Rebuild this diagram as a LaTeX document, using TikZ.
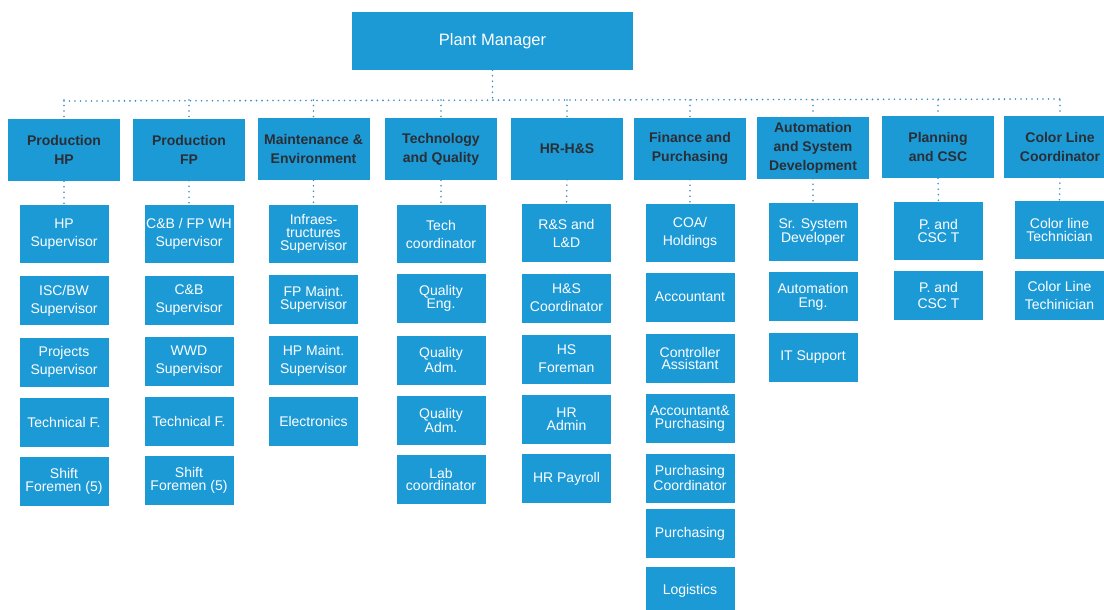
\documentclass[tikz,border=0pt]{standalone}
\usepackage{fontspec}
\setmainfont{Liberation Sans}
\definecolor{boxblue}{HTML}{1C9AD6}
\definecolor{linkblue}{HTML}{3A8CC2}
\definecolor{headtext}{HTML}{2B2E35}
\begin{document}
\begin{tikzpicture}[x=1pt,y=-1pt,
  box/.style={fill=boxblue, draw=none, inner sep=0pt, align=center, anchor=center},
  mgr/.style={box, minimum width=281pt, minimum height=58pt, text=white,
    font=\fontsize{16.5}{19}\selectfont},
  dept/.style={box, minimum width=112pt, minimum height=62pt, text=headtext,
    font=\bfseries\fontsize{14}{19}\selectfont},
  role/.style={box, minimum width=89pt, minimum height=49pt, text=white,
    font=\fontsize{14}{18}\selectfont},
  first/.style={role, minimum height=58pt},
  tight/.style={font=\fontsize{14}{12.8}\selectfont},
  link/.style={draw=linkblue, line width=1.8pt, dash pattern=on 0pt off 5.5pt, line cap=round}
]
\useasboundingbox (0,0) rectangle (1104,610);

% ---- top level ----
\node[mgr] (pm) at (492.5,41) {Plant Manager};

% ---- departments ----
\node[dept] (hp)   at (64,150)   {Production\\HP};
\node[dept] (fp)   at (189,149.5){Production\\FP};
\node[dept] (mnt)  at (313.5,149){Maintenance \&\\Environment};
\node[dept] (tq)   at (441,149)  {Technology\\and Quality};
\node[dept] (hr)   at (567,148.5){HR-H\&S};
\node[dept] (fin)  at (690,148.5){Finance and\\Purchasing};
\node[dept] (aut)  at (813,147.5){Automation\\and System\\Development};
\node[dept] (pln)  at (938,147)  {Planning\\and CSC};
\node[dept] (col)  at (1060,146.5){Color Line\\Coordinator};

% ---- Production HP ----
\node[first] (hp1) at (64,234)   {HP\\Supervisor};
\node[role]  (hp2) at (64,300.5) {ISC/BW\\Supervisor};
\node[role]  (hp3) at (64,362)   {Projects\\Supervisor};
\node[role]  (hp4) at (64,422.5) {Technical F.};
\node[role,tight] (hp5) at (64,481) {Shift\\Foremen (5)};

% ---- Production FP ----
\node[first] (fp1) at (189,234)   {C\&B / FP WH\\Supervisor};
\node[role]  (fp2) at (189,300)   {C\&B\\Supervisor};
\node[role]  (fp3) at (189,361)   {WWD\\Supervisor};
\node[role]  (fp4) at (189,421.5) {Technical F.};
\node[role,tight] (fp5) at (189,480) {Shift\\Foremen (5)};

% ---- Maintenance & Environment ----
\node[first,tight] (mnt1) at (313.5,234)   {Infraes-\\tructures\\Supervisor};
\node[role,tight]  (mnt2) at (313.5,299)   {FP Maint.\\Supervisor};
\node[role]        (mnt3) at (313.5,360.5) {HP Maint.\\Supervisor};
\node[role]        (mnt4) at (313.5,421.5) {Electronics};

% ---- Technology and Quality ----
\node[first]      (tq1) at (441,234)   {Tech\\coordinator};
\node[role,tight] (tq2) at (441,298.5) {Quality\\Eng.};
\node[role,tight] (tq3) at (441,360)   {Quality\\Adm.};
\node[role,tight] (tq4) at (441,420.5) {Quality\\Adm.};
\node[role,tight] (tq5) at (441,479.5) {Lab\\coordinator};

% ---- HR-H&S ----
\node[first]      (hr1) at (566.5,233)   {R\&S and\\L\&D};
\node[role]       (hr2) at (566.5,298)   {H\&S\\Coordinator};
\node[role]       (hr3) at (566.5,359)   {HS\\Foreman};
\node[role,tight] (hr4) at (566.5,419.5) {HR\\Admin};
\node[role]       (hr5) at (566.5,478.5) {HR Payroll};

% ---- Finance and Purchasing ----
\node[first]      (fin1) at (690,232.5) {COA/\\Holdings};
\node[role]       (fin2) at (690,297)   {Accountant};
\node[role,tight] (fin3) at (690,358.5) {Controller\\Assistant};
\node[role,tight] (fin4) at (690,418.5) {Accountant\&\\Purchasing};
\node[role,tight] (fin5) at (690,478)   {Purchasing\\Coordinator};
\node[role]       (fin6) at (690,533.5) {Purchasing};
\node[role]       (fin7) at (690,591)   {Logistics};

% ---- Automation and System Development ----
\node[first,tight] (aut1) at (813,232)   {Sr. System\\Developer};
\node[role,font=\fontsize{14}{14}\selectfont] (aut2) at (813,296.5) {Automation\\Eng.};
\node[role]        (aut3) at (813,357.5) {IT Support};

% ---- Planning and CSC ----
\node[first,tight] (pln1) at (938.5,231) {P. and\\CSC T};
\node[role,font=\fontsize{14}{16}\selectfont] (pln2) at (938.5,295.5) {P. and\\CSC T};

% ---- Color Line Coordinator ----
\node[first,tight] (col1) at (1059.5,230) {Color line\\Technician};
\node[role]        (col2) at (1059.5,295) {Color Line\\Techinician};

% ---- connectors ----
\coordinate (busL) at (64,101);
\coordinate (busR) at (1060,99);
\draw[link] (busL) -- (busR);
\draw[link] (pm.south) -- (pm.south |- 0,100);
\foreach \d in {hp,fp,mnt,tq,hr,fin,aut,pln,col}{
  \draw[link] (\d.north |- 0,100) -- (\d.north);
  \draw[link] (\d.south) -- (\d1.north);
}
\end{tikzpicture}
\end{document}
